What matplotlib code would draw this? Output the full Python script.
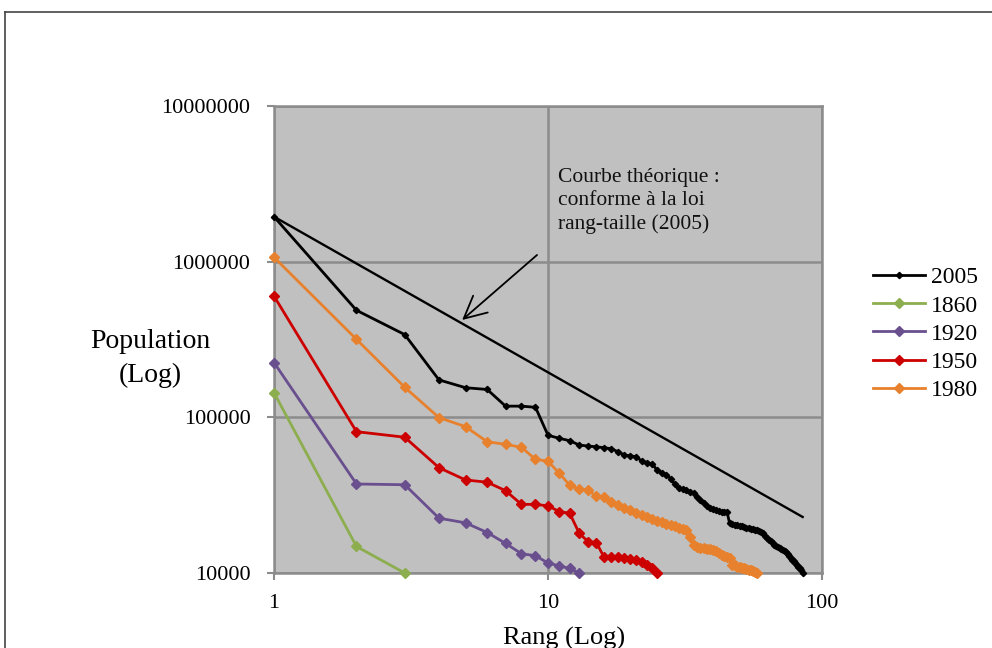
import numpy as np
import matplotlib
matplotlib.use('Agg')
import matplotlib.pyplot as plt
from matplotlib.lines import Line2D
from matplotlib.ticker import FixedLocator, NullLocator, FuncFormatter

# Population by rank
pop_2005 = [1945000, 487000, 340000, 174000, 155000, 151000, 118000, 118000, 116000, 76700,
            73300, 70800, 66400, 65400, 64700, 63800, 62900, 60100, 57300, 56500,
            55900, 52200, 51200, 50200, 45900, 44100, 42800, 40400, 37200, 35000,
            34500, 34100, 33300, 32500, 31000, 29400, 28000, 27000, 26300, 25700,
            25400, 25000, 24800, 24800, 24700, 20900, 20700, 20400, 20200, 20000,
            19900, 19700, 19600, 19500, 19300, 19100, 19000, 18900, 18600, 18300,
            18000, 17400, 16900, 16400, 16000, 15600, 15200, 14800, 14600, 14400,
            14200, 14000, 13800, 13700, 13300, 12900, 12500, 12200, 11900, 11600,
            11300, 11000, 10700, 10400, 10000]
pop_1860 = [144000, 14800, 10000]
pop_1920 = [225000, 37300, 36900, 22500, 21000, 18200, 15500, 13300, 12900, 11600,
            11100, 10700, 10000]
pop_1950 = [601000, 80900, 74500, 47500, 39600, 38300, 33800, 27600, 27600, 27000,
            24800, 24200, 18000, 15900, 15700, 12700, 12600, 12600, 12500, 12300,
            12100, 11800, 11300, 10700, 10000]
pop_1980 = [1067000, 317000, 156000, 99600, 87100, 69700, 67100, 64200, 53700, 52300,
            43600, 36700, 34500, 34100, 31200, 30600, 28700, 27400, 26300, 25400,
            24400, 23600, 22800, 22200, 21700, 21200, 20700, 20300, 19900, 19600,
            19300, 18900, 17100, 15100, 14700, 14500, 14400, 14300, 14200, 14100,
            13800, 13500, 13100, 12900, 12700, 12400, 11300, 11200, 11000, 10900,
            10800, 10700, 10600, 10500, 10400, 10300, 10200, 10000]

# theoretical rank-size line (2005), end points
theo_rank = [1, 85]
theo_pop = [1945000, 22900]

series = [('2005', pop_2005, '#000000', 3.2),
          ('1860', pop_1860, '#8DAE4F', 5.6),
          ('1920', pop_1920, '#6A4F8F', 5.6),
          ('1950', pop_1950, '#CC0000', 5.6),
          ('1980', pop_1980, '#E8812E', 5.6)]

serif = ['Liberation Serif', 'DejaVu Serif']
plt.rcParams['font.family'] = serif

fig = plt.figure(figsize=(9.92, 6.48), dpi=100)
ax = fig.add_axes([274/992, 1-573/648, 548/992, 467/648])
ax.set_facecolor('#C0C0C0')

for label, vals, col, ms in series:
    ranks = np.arange(1, len(vals) + 1)
    ax.plot(ranks, vals, '-', color=col, lw=2.0, marker='D', ms=ms,
            markeredgecolor=col, label=label, clip_on=False, zorder=3)

ax.plot(theo_rank, theo_pop, '-', color='black', lw=1.7, zorder=3)

ax.set_xscale('log')
ax.set_yscale('log')
ax.set_xlim(1, 100)
ax.set_ylim(10000, 10000000)

ax.xaxis.set_major_locator(FixedLocator([1, 10, 100]))
ax.xaxis.set_minor_locator(NullLocator())
ax.yaxis.set_major_locator(FixedLocator([1e4, 1e5, 1e6, 1e7]))
ax.yaxis.set_minor_locator(NullLocator())
ax.xaxis.set_major_formatter(FuncFormatter(lambda v, p: '%d' % round(v)))
ax.yaxis.set_major_formatter(FuncFormatter(lambda v, p: '%d' % round(v)))

ax.grid(True, color='#8C8C8C', lw=1.8)
ax.set_axisbelow(True)
for s in ax.spines.values():
    s.set_color('#8C8C8C')
    s.set_linewidth(1.8)
    s.set_zorder(2)
ax.tick_params(axis='both', which='major', direction='out', length=5,
               width=1.5, color='#8C8C8C', labelsize=16)
ax.tick_params(axis='y', pad=12)
ax.tick_params(axis='x', pad=10)

ax.set_xlabel('Rang (Log)', fontsize=19)
ax.xaxis.set_label_coords(0.53, -0.115)
ax.set_ylabel('Population\n(Log)', fontsize=20, rotation=0, linespacing=1.45,
              ha='center', va='center')
ax.yaxis.set_label_coords(-0.225, 0.46)

ax.text(0.518, 0.868, 'Courbe théorique :\nconforme à la loi\nrang-taille (2005)',
        transform=ax.transAxes, ha='left', va='top', fontsize=15.5,
        linespacing=1.3, color='#111111')
ax.annotate('', xy=(4.86, 422000), xytext=(9.12, 1104000),
            arrowprops=dict(arrowstyle='->,head_length=0.8,head_width=0.4',
                            color='black', lw=1.3, mutation_scale=20,
                            shrinkA=0, shrinkB=0))

fig.legend(loc='center left', bbox_to_anchor=(873/992, 1-334/648),
           bbox_transform=fig.transFigure, frameon=False, fontsize=17,
           handlelength=2.2, handletextpad=0.25, labelspacing=0.28,
           borderpad=0, borderaxespad=0)

# outer chart border
fig.add_artist(Line2D([5/992, 5/992], [0, 1-12/648], transform=fig.transFigure,
                      color='#444444', lw=1.2))
fig.add_artist(Line2D([5/992, 1], [1-12/648, 1-12/648], transform=fig.transFigure,
                      color='#444444', lw=1.2))

fig.savefig('out.png', dpi=100)
